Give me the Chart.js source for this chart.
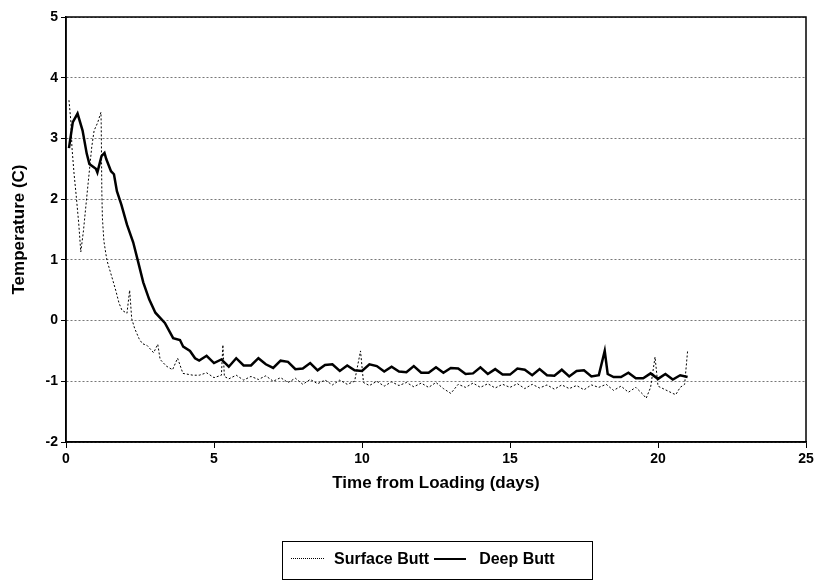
<!DOCTYPE html>
<html>
<head>
<meta charset="utf-8">
<script src="https://cdn.jsdelivr.net/npm/chart.js@4/dist/chart.umd.min.js"></script>
<style>
  body { margin: 0; background: #fff; }
  #wrap { position: relative; width: 835px; height: 583px; }
  #legend {
    position: absolute; left: 282px; top: 541px; width: 311px; height: 39px;
    border: 1.5px solid #000; box-sizing: border-box;
    font: bold 16px "Liberation Sans", Arial, sans-serif; color: #000;
    display: flex; align-items: center; padding: 0 0 4px 8px;
  }
  #legend .dot { width: 33px; border-top: 1px dotted #000; margin-right: 10px; }
  #legend .solid { width: 32px; border-top: 2.5px solid #000; margin: 0 13px 0 5px; }
</style>
</head>
<body>
<div id="wrap">
  <canvas id="chart" width="835" height="583"></canvas>
  <div id="legend">
    <span class="dot"></span><span>Surface Butt</span>
    <span class="solid"></span><span>Deep Butt</span>
  </div>
</div>
<script>
const surfaceX = [
  0.1, 0.17, 0.2, 0.27, 0.35, 0.43, 0.5, 0.59, 0.69, 0.78, 0.87, 0.95, 1.07, 1.18, 1.19, 1.2,
  1.21, 1.23, 1.28, 1.35, 1.39, 1.59, 1.69, 1.79, 1.89, 2.06, 2.15, 2.22, 2.32, 2.47, 2.58, 2.74,
  2.96, 3.1, 3.18, 3.39, 3.6, 3.77, 3.95, 4.29,
  4.5, 4.75, 5.0, 5.25, 5.3, 5.35, 5.5, 5.75, 6.0, 6.25, 6.5, 6.75, 7.0, 7.25, 7.5, 7.75,
  8.0, 8.25, 8.5, 8.75, 9.0, 9.25, 9.5, 9.75, 9.95, 10.05, 10.25, 10.5, 10.75, 11.0, 11.25, 11.5,
  11.75, 12.0, 12.25, 12.5, 12.75, 13.0, 13.25, 13.5, 13.75, 14.0, 14.25, 14.5, 14.75, 15.0, 15.25,
  15.5, 15.75, 16.0, 16.25, 16.5, 16.75, 17.0, 17.25, 17.5, 17.75, 18.0, 18.25, 18.5, 18.75, 19.0,
  19.25, 19.5, 19.6, 19.75, 19.9, 20.0, 20.25, 20.5, 20.6, 20.75, 20.9, 21.0
];
const surfaceY = [
  3.63, 3.25, 2.86, 2.43, 2.03, 1.6, 1.13, 1.48, 1.98, 2.42, 2.86, 3.13, 3.26, 3.43, 3.24, 2.68,
  2.13, 1.69, 1.31, 1.09, 0.98, 0.65, 0.48, 0.29, 0.17, 0.12, 0.5, 0.03, -0.13, -0.3, -0.38, -0.41,
  -0.53, -0.39, -0.64, -0.75, -0.81, -0.62, -0.87, -0.9,
  -0.9, -0.86, -0.94, -0.9, -0.4, -0.92, -0.96, -0.9, -0.98, -0.92, -0.97, -0.91, -1.0, -0.94, -1.02, -0.95,
  -1.05, -0.97, -1.04, -0.98, -1.06, -0.98, -1.05, -1.0, -0.5, -1.02, -1.07, -1.0, -1.08, -1.01, -1.07, -1.02,
  -1.09, -1.03, -1.1, -1.02, -1.12, -1.2, -1.05, -1.1, -1.03, -1.1, -1.04, -1.11, -1.05, -1.1, -1.04,
  -1.12, -1.05, -1.11, -1.06, -1.13, -1.06, -1.12, -1.07, -1.14, -1.06, -1.1, -1.05, -1.15, -1.08, -1.18,
  -1.1, -1.22, -1.28, -1.1, -0.6, -1.08, -1.14, -1.2, -1.22, -1.1, -1.05, -0.5
];

const deepX = [
  0.1, 0.23, 0.39, 0.56, 0.7, 0.79, 1.01, 1.06, 1.2, 1.3, 1.36, 1.52, 1.62, 1.72, 1.87, 2.06,
  2.27, 2.41, 2.61, 2.81, 3.02, 3.34, 3.62, 3.85, 3.96, 4.19, 4.36,
  4.5, 4.75, 5.0, 5.25, 5.5, 5.75, 6.0, 6.25, 6.5, 6.75, 7.0, 7.25, 7.5, 7.75, 8.0, 8.25,
  8.5, 8.75, 9.0, 9.25, 9.5, 9.75, 10.0, 10.25, 10.5, 10.75, 11.0, 11.25, 11.5, 11.75, 12.0, 12.25,
  12.5, 12.75, 13.0, 13.25, 13.5, 13.75, 14.0, 14.25, 14.5, 14.75, 15.0, 15.25, 15.5, 15.75, 16.0,
  16.25, 16.5, 16.75, 17.0, 17.25, 17.5, 17.75, 18.0, 18.2, 18.3, 18.5, 18.75, 19.0, 19.25, 19.5,
  19.75, 20.0, 20.25, 20.5, 20.75, 21.0
];
const deepY = [
  2.84, 3.27, 3.41, 3.13, 2.75, 2.58, 2.5, 2.44, 2.71, 2.76, 2.66, 2.46, 2.41, 2.13, 1.91, 1.58,
  1.29, 1.02, 0.63, 0.35, 0.13, -0.04, -0.29, -0.32, -0.43, -0.5, -0.62,
  -0.66, -0.58, -0.7, -0.64, -0.76, -0.62, -0.74, -0.74, -0.62, -0.72, -0.78, -0.66, -0.68, -0.8, -0.79, -0.7,
  -0.82, -0.73, -0.72, -0.83, -0.74, -0.82, -0.83, -0.72, -0.75, -0.84, -0.76, -0.84, -0.85, -0.75, -0.86, -0.86,
  -0.77, -0.86, -0.78, -0.79, -0.88, -0.87, -0.77, -0.88, -0.8, -0.89, -0.89, -0.79, -0.81, -0.9, -0.8,
  -0.9, -0.91, -0.81, -0.92, -0.83, -0.82, -0.92, -0.9, -0.5, -0.88, -0.93, -0.93, -0.86, -0.95, -0.95,
  -0.87, -0.96, -0.88, -0.97, -0.9, -0.93
];

const font = 'Liberation Sans, Arial, sans-serif';

const frame = {
  id: 'frame',
  afterDraw: (chart) => {
    const { ctx, chartArea: a } = chart;
    ctx.save();
    ctx.strokeStyle = '#000';
    ctx.lineWidth = 1.5;
    ctx.strokeRect(a.left, a.top, a.right - a.left, a.bottom - a.top);
    ctx.restore();
  }
};

new Chart(document.getElementById('chart'), {
  type: 'line',
  data: {
    datasets: [
      {
        label: 'Surface Butt',
        data: surfaceX.map((x, i) => ({ x, y: surfaceY[i] })),
        borderColor: '#000',
        borderWidth: 1,
        borderDash: [2, 2]
      },
      {
        label: 'Deep Butt',
        data: deepX.map((x, i) => ({ x, y: deepY[i] })),
        borderColor: '#000',
        borderWidth: 2.5
      }
    ]
  },
  options: {
    responsive: false,
    animation: false,
    elements: { point: { radius: 0 }, line: { tension: 0 } },
    layout: { padding: { top: 17, right: 29, bottom: 85, left: 0 } },
    plugins: { legend: { display: false }, tooltip: { enabled: false } },
    scales: {
      x: {
        type: 'linear',
        min: 0,
        max: 25,
        afterFit: (s) => { s.height = 56; },
        ticks: { stepSize: 5, padding: 3, color: '#000', font: { family: font, size: 14, weight: 'bold' } },
        grid: { drawOnChartArea: false, tickLength: 6, tickColor: '#000' },
        border: { color: '#000', width: 1.5 },
        title: {
          display: true,
          text: 'Time from Loading (days)',
          color: '#000',
          padding: { top: 4, bottom: 4 },
          font: { family: font, size: 17, weight: 'bold' }
        }
      },
      y: {
        min: -2,
        max: 5,
        afterFit: (s) => { s.width = 66; },
        ticks: { stepSize: 1, padding: 3, color: '#000', font: { family: font, size: 14, weight: 'bold' } },
        grid: { color: '#777', lineWidth: 1, tickLength: 5, tickColor: '#000', tickBorderDash: [] },
        border: { color: '#000', width: 1.5, dash: [2, 2] },
        title: {
          display: true,
          text: 'Temperature (C)',
          color: '#000',
          padding: { top: 9, bottom: 4 },
          font: { family: font, size: 17, weight: 'bold' }
        }
      }
    }
  },
  plugins: [frame]
});
</script>
</body>
</html>
